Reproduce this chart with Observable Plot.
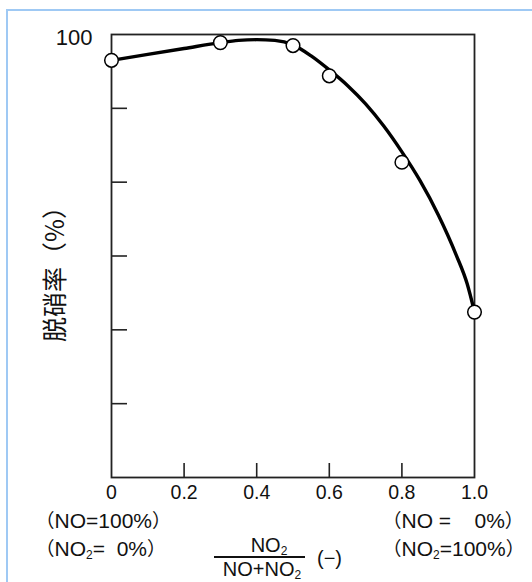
<!DOCTYPE html>
<html>
<head>
<meta charset="utf-8">
<script src="https://cdn.jsdelivr.net/npm/d3@7"></script>
<script src="https://cdn.jsdelivr.net/npm/@observablehq/plot@0.6"></script>
<style>
  html, body { margin: 0; padding: 0; background: #fff; }
  #wrap { position: relative; width: 532px; height: 582px; overflow: hidden; font-family: "Liberation Sans", "Noto Sans CJK JP", Arial, sans-serif; color: #111; }
  #border { position: absolute; left: 6px; top: 9px; width: 600px; height: 600px; border: 2px solid #9fc9f4; box-sizing: border-box; }
  .lbl { position: absolute; font-size: 20px; white-space: nowrap; line-height: 1; font-feature-settings: "halt"; }
  .side { font-size: 21px; height: 21px; }
  .lbl sub { font-size: 12px; vertical-align: -3px; line-height: 0; }
  .p { font-family: "Noto Sans CJK JP", sans-serif; font-feature-settings: "halt"; font-size: 19px; line-height: 0; }
  #ylab { position: absolute; left: -47.5px; top: 253px; width: 200px; height: 30px; line-height: 30px; text-align: center; transform: rotate(-90deg); font-family: "Noto Sans CJK JP", sans-serif; font-size: 25px; white-space: nowrap; }
  #chart svg { position: absolute; left: 0; top: 0; }
</style>
</head>
<body>
<div id="wrap">
  <div id="border"></div>
  <div id="chart"></div>
  <div id="ylab">脱硝率（%）</div>
  <div class="lbl side" style="left:45px; top:510px;"><span class="p">（</span>NO=100%<span class="p">）</span></div>
  <div class="lbl side" style="left:45px; top:538px;"><span class="p">（</span>NO<sub>2</sub>=&nbsp; 0%<span class="p">）</span></div>
  <div class="lbl side" style="left:392px; top:510px;"><span class="p">（</span>NO =&nbsp;&nbsp;&nbsp; 0%<span class="p">）</span></div>
  <div class="lbl side" style="left:392px; top:538px;"><span class="p">（</span>NO<sub>2</sub>=100%<span class="p">）</span></div>
  <div class="lbl" style="left:232px; top:535px; width:74px; text-align:center;">NO<sub>2</sub></div>
  <div style="position:absolute; left:214px; top:556px; width:91px; height:1.6px; background:#111;"></div>
  <div class="lbl" style="left:214px; top:559px; width:96px; text-align:center;">NO+NO<sub>2</sub></div>
  <div class="lbl" style="left:317px; top:548px;">(−)</div>
</div>
<script>
// Measured points (NO2 fraction vs. denitration rate %)
const ratio = [0, 0.3, 0.5, 0.6, 0.8, 1.0];
const removal = [96.5, 98.9, 98.5, 94.4, 82.7, 62.4];

// Hand-drawn fitted curve
const curveX = [0, 0.1, 0.2, 0.3, 0.35, 0.4, 0.45, 0.5, 0.55, 0.6, 0.65, 0.7, 0.75, 0.8, 0.85, 0.9, 0.95, 0.98, 1.0];
const curveY = [96.5, 97.3, 98.1, 98.9, 99.2, 99.3, 99.2, 98.6, 97.1, 95.2, 93.1, 90.6, 87.6, 84.1, 80.2, 75.6, 70.1, 66.2, 62.4];

// Axis ticks
const xTicks = [0, 0.2, 0.4, 0.6, 0.8, 1.0];
const xTickLabels = ["0", "0.2", "0.4", "0.6", "0.8", "1.0"];
const yTicks = [40, 50, 60, 70, 80, 90, 100];
const yLabelTicks = [100];
const yTickLabels = ["100"];

const points = ratio.map((x, i) => ({x, y: removal[i]}));
const curve = curveX.map((x, i) => ({x, y: curveY[i]}));

const chart = Plot.plot({
  width: 532,
  height: 582,
  marginLeft: 111,
  marginRight: 58,
  marginTop: 34,
  marginBottom: 105,
  style: {fontFamily: "'Liberation Sans', Arial, sans-serif", fontSize: "19px", color: "#111", background: "transparent"},
  x: {domain: [0, 1]},
  y: {domain: [40, 100]},
  marks: [
    Plot.frame({stroke: "#222", strokeWidth: 1.8}),
    // inward tick marks
    Plot.axisY({ticks: yTicks.slice(1, -1), tickSize: -16, tickFormat: () => "", stroke: "#222", strokeWidth: 1.6, label: null}),
    Plot.axisX({ticks: xTicks.slice(1, -1), tickSize: -14, tickFormat: () => "", stroke: "#222", strokeWidth: 1.6, label: null}),
    // tick labels
    Plot.axisY({ticks: yLabelTicks, tickSize: 0, tickPadding: 19, tickFormat: (d) => yTickLabels[yLabelTicks.indexOf(d)], dy: 3, label: null, fontSize: 22}),
    Plot.axisX({ticks: xTicks, tickSize: 0, tickPadding: 8, tickFormat: (d) => xTickLabels[xTicks.indexOf(d)], label: null, fontSize: 19.5}),
    Plot.line(curve, {x: "x", y: "y", curve: "monotone-x", stroke: "#000", strokeWidth: 3.4}),
    Plot.dot(points, {x: "x", y: "y", r: 6.8, fill: "#fff", stroke: "#000", strokeWidth: 1.5})
  ]
});
document.getElementById("chart").appendChild(chart);
</script>
</body>
</html>
